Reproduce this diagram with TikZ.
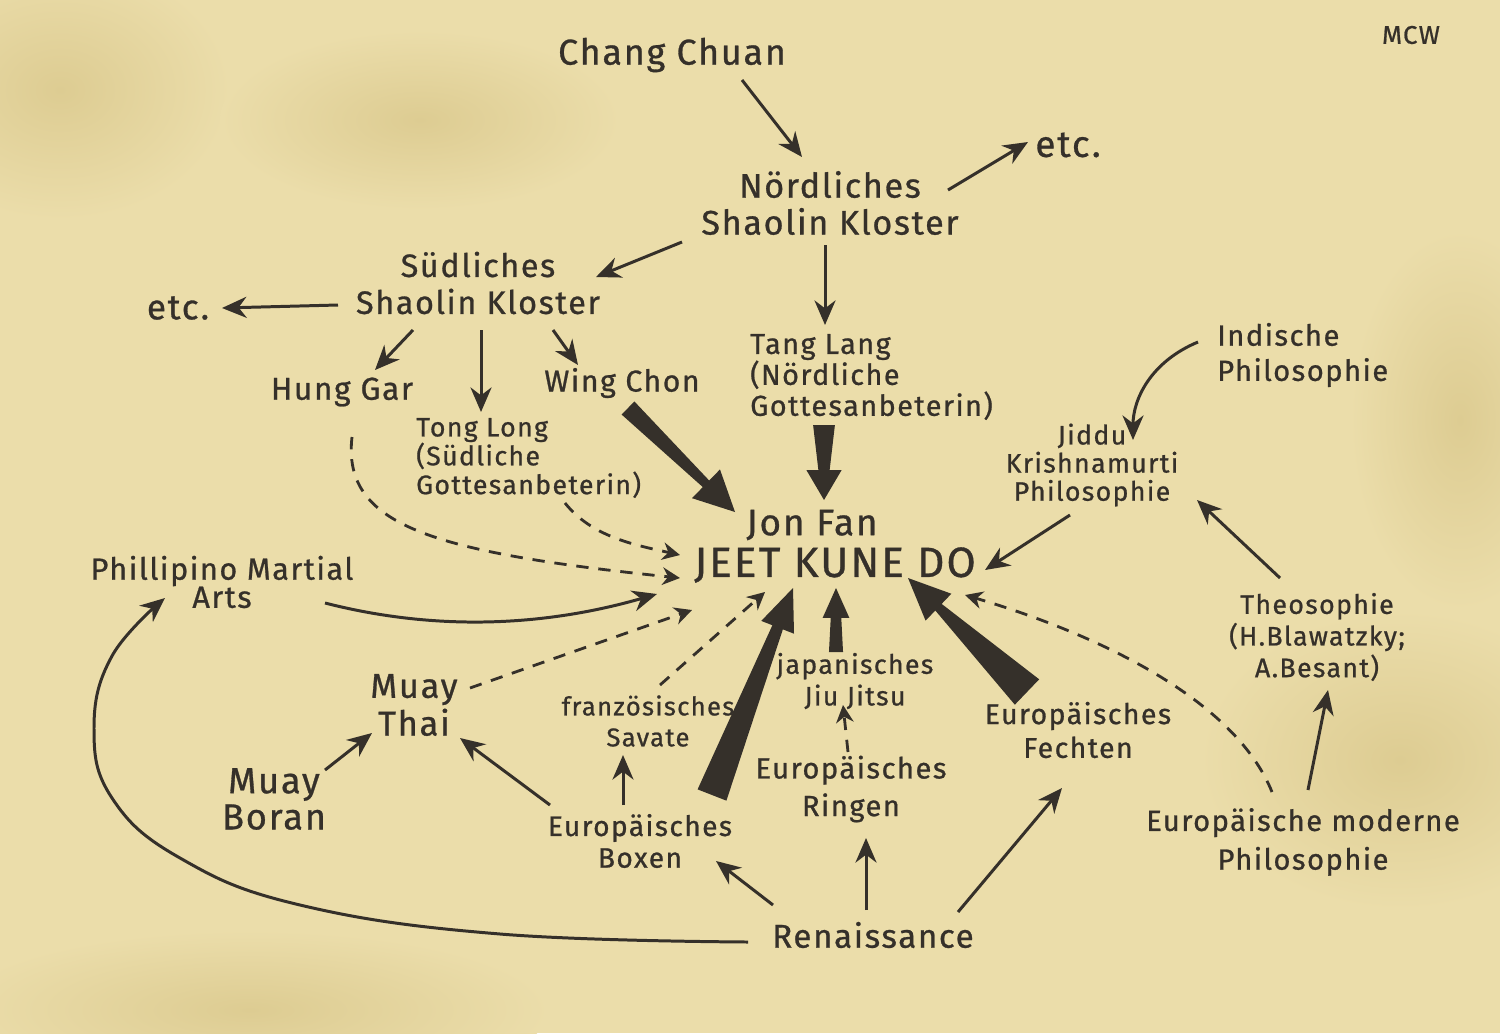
\documentclass[tikz,border=0pt]{standalone}
\usepackage{fontspec}
\setmainfont{Fira Sans}[LetterSpace=5,FakeBold=0.8]
\usetikzlibrary{arrows.meta,calc}
\definecolor{paper}{HTML}{EBDDAA}
\definecolor{paperdark}{HTML}{DDCC92}
\definecolor{ink}{HTML}{35302A}
% #1 start, #2 end, #3 tail half width, #4 neck half width, #5 head half width, #6 head length
\newcommand\wedgearrow[6]{%
  \coordinate (wN) at ($(#2)!#6!(#1)$);
  \fill[ink] ($(#1)!#3!90:(#2)$) -- ($(wN)!#4!90:(#2)$) -- ($(wN)!#5!90:(#2)$)
    -- (#2) -- ($(wN)!#5!-90:(#2)$) -- ($(wN)!#4!-90:(#2)$) -- ($(#1)!#3!-90:(#2)$) -- cycle;}
\tikzset{
  lbl/.style={align=center, text=ink, inner sep=1pt},
  fs/.style n args={2}{font=\fontsize{#1}{#2}\selectfont},
  arr/.style={draw=ink, line width=0.85pt, -{Stealth[length=7pt,width=6pt]}},
  darr/.style={draw=ink, line width=0.8pt, dash pattern=on 3.5pt off 2.8pt, -{Stealth[length=5pt,width=5pt]}}
}
\begin{document}
\begin{tikzpicture}[x=0.01cm,y=-0.01cm]
\fill[paper] (0,0) rectangle (1500,1033);
\useasboundingbox (0,0) rectangle (1500,1033);
\begin{scope}
\clip (0,0) rectangle (1500,1033);
\shade[inner color=paperdark, outer color=paper] (1400,760) ellipse (200 and 150);
\shade[inner color=paperdark, outer color=paper] (60,90) ellipse (170 and 130);
\shade[inner color=paperdark, outer color=paper] (1460,420) ellipse (110 and 190);
\shade[inner color=paperdark, outer color=paper] (250,1010) ellipse (300 and 80);
\shade[inner color=paperdark, outer color=paper] (420,120) ellipse (200 and 90);
\end{scope}

% nodes
\node[lbl, fs={10.2}{10.5}] (chang) at (672,55) {Chang Chuan};
\node[lbl, fs={7.3}{8}] (mcw) at (1411,35) {MCW};
\node[lbl, fs={9.7}{10.5}] (nord) at (830,203) {Nördliches\\Shaolin Kloster};
\node[lbl, fs={10.5}{10.5}] (etcA) at (1068,145) {etc.};
\node[lbl, fs={9.2}{10.5}] (sud) at (478,283) {Südliches\\Shaolin Kloster};
\node[lbl, fs={10}{10.5}] (etcB) at (178,308) {etc.};
\node[lbl, fs={9}{10}] (hung) at (342,392) {Hung Gar};
\node[lbl, align=left, anchor=west, fs={7.6}{8.2}] (tong) at (412,458) {Tong Long\\(Südliche\\Gottesanbeterin)};
\node[lbl, fs={8.6}{10}] (wing) at (622,383) {Wing Chon};
\node[lbl, align=left, anchor=west, fs={8.2}{8.8}] (tang) at (746,377) {Tang Lang\\(Nördliche\\Gottesanbeterin)};
\node[lbl, align=left, anchor=west, fs={8.3}{10}] (ind) at (1213,355) {Indische\\Philosophie};
\node[lbl, fs={7.6}{8}] (jiddu) at (1092,465) {Jiddu\\Krishnamurti\\Philosophie};
\node[lbl, fs={10.5}{11}] (jonfan) at (812,525) {Jon Fan};
\node[lbl, fs={12}{12}] (jkd) at (835,565) {JEET KUNE DO};
\node[lbl, fs={8.7}{8}] (phil) at (222,582) {Phillipino Martial\\Arts};
\node[lbl, fs={9.8}{9.6}] (muay) at (414,705) {Muay\\Thai};
\node[lbl, fs={10.3}{9}] (boran) at (274,799) {Muay\\Boran};
\node[lbl, fs={7.3}{8.8}] (sav) at (648,721) {französisches\\Savate};
\node[lbl, fs={7.6}{9}] (jiu) at (855,681) {japanisches\\Jiu Jitsu};
\node[lbl, fs={8.3}{10.7}] (ring) at (851,789) {Europäisches\\Ringen};
\node[lbl, fs={8.1}{9.6}] (fech) at (1078,730) {Europäisches\\Fechten};
\node[lbl, fs={7.6}{9}] (theo) at (1317,637) {Theosophie\\(H.Blawatzky;\\A.Besant)};
\node[lbl, fs={8}{9}] (box) at (640,841) {Europäisches\\Boxen};
\node[lbl, fs={9.4}{10}] (ren) at (873,935) {Renaissance};
\node[lbl, fs={8.3}{11}] (emp) at (1303,842) {Europäische moderne\\Philosophie};

% connector end points
\coordinate (c1a) at (742,80);   \coordinate (c1b) at (802,157);
\coordinate (c2a) at (948,190);  \coordinate (c2b) at (1028,142);
\coordinate (c3a) at (682,242);  \coordinate (c3b) at (596,277);
\coordinate (c4a) at (825,245);  \coordinate (c4b) at (825,325);
\coordinate (c5a) at (338,305);  \coordinate (c5b) at (222,308);
\coordinate (c6a) at (413,330);  \coordinate (c6b) at (375,370);
\coordinate (c7a) at (481,330);  \coordinate (c7b) at (481,412);
\coordinate (c8a) at (553,330);  \coordinate (c8b) at (578,365);

\draw[arr] (c1a) -- (c1b);
\draw[arr] (c2a) -- (c2b);
\draw[arr] (c3a) -- (c3b);
\draw[arr] (c4a) -- (c4b);
\draw[arr] (c5a) -- (c5b);
\draw[arr] (c6a) -- (c6b);
\draw[arr] (c7a) -- (c7b);
\draw[arr] (c8a) -- (c8b);

% thick arrows into JKD
\coordinate (wcA) at (628,408);  \coordinate (wcB) at (735,512);
\wedgearrow{wcA}{wcB}{2.6pt}{1.3pt}{5.7pt}{11.5pt}
\coordinate (tlA) at (824,425);  \coordinate (tlB) at (824,500);
\wedgearrow{tlA}{tlB}{3.1pt}{1.6pt}{5pt}{8.5pt}
\coordinate (bxA) at (712,795);  \coordinate (bxB) at (793,588);
\wedgearrow{bxA}{bxB}{4.4pt}{1.6pt}{5pt}{12pt}
\coordinate (jjA) at (836,652);  \coordinate (jjB) at (836,588);
\wedgearrow{jjA}{jjB}{2pt}{1.5pt}{3.8pt}{8.5pt}
\coordinate (feA) at (1027,692); \coordinate (feB) at (908,578);
\wedgearrow{feA}{feB}{5pt}{1.3pt}{5.3pt}{12pt}

% dashed arrows into JKD
\coordinate (hgA) at (352,437);  \coordinate (hgB) at (680,578);
\draw[darr] (hgA) .. controls (342,525) and (430,552) .. (hgB);
\coordinate (tgA) at (565,503);  \coordinate (tgB) at (680,555);
\draw[darr] (tgA) .. controls (592,537) and (635,545) .. (tgB);
\coordinate (mtA) at (470,688);  \coordinate (mtB) at (692,610);
\draw[darr] (mtA) -- (mtB);
\coordinate (svA) at (660,685);  \coordinate (svB) at (765,592);
\draw[darr] (svA) -- (svB);
\coordinate (emA) at (1272,792); \coordinate (emB) at (965,595);
\draw[darr] (emA) .. controls (1235,700) and (1100,635) .. (emB);
\coordinate (rgA) at (848,752);  \coordinate (rgB) at (843,705);
\draw[darr] (rgA) -- (rgB);

% solid arrows
\coordinate (inA) at (1198,342); \coordinate (inB) at (1133,440);
\draw[arr] (inA) .. controls (1150,362) and (1133,400) .. (inB);
\coordinate (jdA) at (1070,515); \coordinate (jdB) at (985,570);
\draw[arr] (jdA) -- (jdB);
\coordinate (thA) at (1280,578); \coordinate (thB) at (1197,500);
\draw[arr] (thA) -- (thB);
\coordinate (epA) at (1308,790); \coordinate (epB) at (1328,690);
\draw[arr] (epA) -- (epB);
\coordinate (phA) at (325,603);  \coordinate (phB) at (657,594);
\draw[arr] (phA) .. controls (450,635) and (560,622) .. (phB);
\coordinate (reA) at (748,942);  \coordinate (reB) at (165,598);
\draw[arr] plot[smooth, tension=0.7] coordinates {(reA) (500,934) (300,905) (180,858) (112,798) (94,728) (112,656) (reB)};
\coordinate (rbA) at (773,905);  \coordinate (rbB) at (716,861);
\draw[arr] (rbA) -- (rbB);
\coordinate (rrA) at (866,910);  \coordinate (rrB) at (866,838);
\draw[arr] (rrA) -- (rrB);
\coordinate (rfA) at (958,912);  \coordinate (rfB) at (1062,788);
\draw[arr] (rfA) -- (rfB);
\coordinate (btA) at (550,805);  \coordinate (btB) at (460,738);
\draw[arr] (btA) -- (btB);
\coordinate (bsA) at (623,805);  \coordinate (bsB) at (623,755);
\draw[arr] (bsA) -- (bsB);
\coordinate (mbA) at (325,770);  \coordinate (mbB) at (372,733);
\draw[arr] (mbA) -- (mbB);
\end{tikzpicture}
\end{document}
